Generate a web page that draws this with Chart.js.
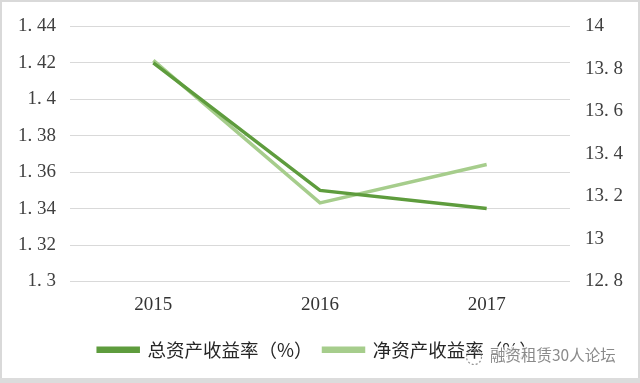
<!DOCTYPE html>
<html><head><meta charset="utf-8">
<script src="https://cdn.jsdelivr.net/npm/chart.js@4/dist/chart.umd.min.js"></script>
<style>html,body{margin:0;padding:0;background:#fff}#wrap{width:640px;height:383px;position:relative}</style>
</head><body><div id="wrap"><canvas id="c" width="640" height="383"></canvas></div>
<script>
const categories = ["2015", "2016", "2017"];
const roaLabel = "总资产收益率（%）";
const roeLabel = "净资产收益率（%）";
const roaValues = [1.42, 1.35, 1.34];
const roeValues = [13.84, 13.17, 13.35];
const leftTicks = [1.3, 1.44, 0.02];
const rightTicks = [12.8, 14, 0.2];
const watermark = "融资租赁30人论坛";

const fmt = v => String(+v.toFixed(2)).replace('.', '. ');

const framePlugin = {
  id: 'frame',
  afterLayout(chart) {
    if (chart.legend) { chart.legend.left -= 2; chart.legend.right -= 2; }
  },
  beforeDraw(chart) {
    const c = chart.ctx;
    c.save();
    c.fillStyle = '#fff';
    c.fillRect(0, 0, chart.width, chart.height);
    c.restore();
  },
  afterDraw(chart) {
    const c = chart.ctx;
    c.save();
    c.strokeStyle = '#d9d9d9';
    c.lineWidth = 2;
    c.strokeRect(1, 1, chart.width - 2, chart.height - 2);
    c.fillStyle = '#dcdcdc';
    c.fillRect(0, chart.height - 5, chart.width, 5);
    // watermark
    c.font = '15.5px "Noto Sans CJK SC"';
    c.textBaseline = 'middle';
    c.lineJoin = 'round';
    c.lineWidth = 3;
    c.strokeStyle = 'rgba(255,255,255,0.9)';
    c.fillStyle = 'rgba(125,125,125,0.9)';
    c.strokeText(watermark, 490, 355);
    c.fillText(watermark, 490, 355);
    c.beginPath();
    c.arc(474, 357, 7.5, 0, Math.PI * 2);
    c.lineWidth = 1.2;
    c.setLineDash([2, 2]);
    c.strokeStyle = 'rgba(120,120,120,0.8)';
    c.stroke();
    c.restore();
  }
};

new Chart(document.getElementById('c'), {
  type: 'line',
  data: {
    labels: categories,
    datasets: [
      { label: roaLabel, data: roaValues, yAxisID: 'y', borderColor: '#5e9c3d', backgroundColor: '#5e9c3d', borderWidth: 3.5, pointRadius: 0, tension: 0 },
      { label: roeLabel, data: roeValues, yAxisID: 'y1', borderColor: '#a6cd8c', backgroundColor: '#a6cd8c', borderWidth: 3.5, pointRadius: 0, tension: 0 }
    ]
  },
  options: {
    responsive: false,
    animation: false,
    devicePixelRatio: 1,
    layout: { padding: { top: 13, bottom: 14, left: 0, right: 0 } },
    plugins: {
      legend: {
        position: 'bottom',
        labels: {
          boxWidth: 40, boxHeight: 3, padding: 11,
          color: '#262626',
          font: { family: '"Noto Sans CJK SC"', size: 18.5 }
        }
      },
      tooltip: { enabled: false }
    },
    scales: {
      x: {
        offset: true,
        grid: { display: false },
        border: { display: false },
        ticks: { color: '#333333', font: { family: '"Liberation Serif"', size: 19 }, padding: 4 },
        afterFit(s) { s.height = 48; }
      },
      y: {
        position: 'left',
        min: leftTicks[0], max: leftTicks[1],
        grid: { color: '#d9d9d9', lineWidth: 1, drawTicks: false },
        border: { display: false },
        ticks: { stepSize: leftTicks[2], color: '#404040', font: { family: '"Liberation Serif"', size: 19 }, padding: 14, callback: v => fmt(v) },
        afterFit(s) { s.width = 70; }
      },
      y1: {
        position: 'right',
        min: rightTicks[0], max: rightTicks[1],
        grid: { display: false, drawTicks: false },
        border: { display: false },
        ticks: { stepSize: rightTicks[2], color: '#404040', font: { family: '"Liberation Serif"', size: 19 }, padding: 15, callback: v => fmt(v) },
        afterFit(s) { s.width = 70; }
      }
    }
  },
  plugins: [framePlugin]
});
</script></body></html>
